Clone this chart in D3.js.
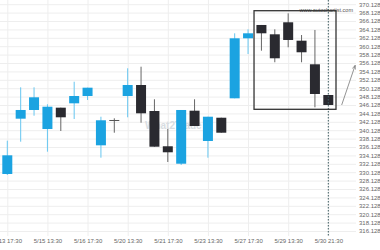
<!DOCTYPE html>
<html>
<head>
<meta charset="utf-8">
<script src="https://cdn.jsdelivr.net/npm/d3@7"></script>
<style>
  body { margin: 0; background: #fff; }
  svg { display: block; font-family: "Liberation Sans", Arial, sans-serif; }
</style>
</head>
<body>
<div id="chart"></div>
<script>
// candle data (one row per candle)
const opens  = [329.70, 342.87, 344.94, 340.41, 345.49, 346.53, 348.27, 336.53, 342.56, 348.27, 350.89, 344.70, 336.30,
                332.15, 344.77, 337.56, 343.10, 347.72, 362.01, 365.18, 362.96, 365.82, 361.44, 355.82, 348.51];
const highs  = [337.63, 350.34, 350.34, 346.30, 345.49, 351.67, 350.25, 343.34, 342.96, 354.87, 355.25, 347.49, 340.41,
                344.94, 347.49, 343.34, 343.10, 363.20, 364.15, 365.18, 364.15, 367.96, 362.79, 363.99, 348.51];
const lows   = [329.46, 337.39, 343.58, 335.01, 339.94, 342.79, 347.32, 333.58, 339.53, 343.20, 341.91, 336.20, 332.56,
                331.84, 341.13, 333.58, 339.53, 347.72, 358.27, 359.06, 356.30, 359.87, 356.30, 345.58, 346.13];
const closes = [334.15, 344.94, 347.96, 345.72, 343.20, 348.27, 350.25, 342.49, 342.56, 350.89, 344.15, 336.20, 334.87,
                344.94, 341.13, 343.34, 339.53, 362.01, 363.20, 363.20, 357.25, 361.61, 358.68, 348.75, 346.13];

// x tick labels sit on every third candle
const xTickIndex = [0, 3, 6, 9, 12, 15, 18, 21, 24];
const xTickLabels = ["5/13 17:30", "5/15 13:30", "5/16 17:30", "5/20 13:30", "5/21 17:30",
                     "5/23 13:30", "5/27 17:30", "5/29 13:30", "5/30 21:30"];
const yTicks = d3.range(0, 28).map(i => 316.128 + i * 2);

// detected pattern (candles) and the forecast arrow
const patternFirst = 19, patternLast = 24;
const arrowIndex = [25, 26];
const arrowValue = [346.13, 355.5];

const width = 380, height = 250;
const plotRight = 356, plotBottom = 236;

const svg = d3.select("#chart").append("svg")
  .attr("width", width)
  .attr("height", height);

const x = d3.scaleLinear().domain([0, 24]).range([7.3, 328.3]);
const y = d3.scaleLinear().domain([316.128, 370.128]).range([231, 4.2]);

// grid + y labels
const yAxis = svg.append("g")
  .attr("transform", `translate(${plotRight},0)`)
  .call(d3.axisRight(y).tickValues(yTicks).tickSize(-plotRight).tickPadding(3)
    .tickFormat(d => d.toFixed(3)));
yAxis.select(".domain").remove();
yAxis.selectAll("line").attr("stroke", "#eeeeee");
yAxis.selectAll("text").attr("fill", "#666").style("font-size", "6px");

// grid + x labels
const xAxis = svg.append("g")
  .attr("transform", `translate(0,${plotBottom})`)
  .call(d3.axisBottom(x).tickValues(xTickIndex).tickSize(-plotBottom).tickPadding(3)
    .tickFormat((d, i) => xTickLabels[i]));
xAxis.select(".domain").remove();
xAxis.selectAll("line").attr("stroke", "#eeeeee");
xAxis.selectAll("text").attr("fill", "#666").style("font-size", "6px");

// watermarks
svg.append("text")
  .attr("x", 145).attr("y", 129)
  .attr("fill", "#d8dde2")
  .style("font-size", "10px").style("font-weight", "bold")
  .text("What2Trade");

svg.append("text")
  .attr("x", 353).attr("y", 12)
  .attr("text-anchor", "end")
  .attr("fill", "#555")
  .style("font-size", "5.5px")
  .text("www.autochartist.com");

// candles
const candles = opens.map((o, i) => ({ i, o, h: highs[i], l: lows[i], c: closes[i] }));
const blue = "#1ba3e1", dark = "#2a2a30";
const colorOf = d => d.c > d.o ? blue : (d.c < d.o ? dark : "#555");

const g = svg.append("g");
g.selectAll(".wick")
  .data(candles)
  .enter().append("line")
  .attr("x1", d => x(d.i)).attr("x2", d => x(d.i))
  .attr("y1", d => y(d.h)).attr("y2", d => y(d.l))
  .attr("stroke", d => d.c > d.o ? "#66c6f0" : "#666")
  .attr("stroke-width", 1);

g.selectAll(".body")
  .data(candles)
  .enter().append("rect")
  .attr("x", d => x(d.i) - 5)
  .attr("width", 10)
  .attr("y", d => y(Math.max(d.o, d.c)))
  .attr("height", d => Math.max(1, y(Math.min(d.o, d.c)) - y(Math.max(d.o, d.c))))
  .attr("fill", colorOf);

// current time line
svg.append("line")
  .attr("x1", x(24)).attr("x2", x(24))
  .attr("y1", 0).attr("y2", plotBottom)
  .attr("stroke", "#3d5a60")
  .attr("stroke-width", 1)
  .attr("stroke-dasharray", "1.5,1.5");

// pattern box
const pat = candles.slice(patternFirst, patternLast + 1);
const boxTop = y(d3.max(pat, d => d.h)) - 2.6;
const boxBottom = y(d3.min(pat, d => d.l)) + 2;
svg.append("rect")
  .attr("x", x(patternFirst) - 7.4)
  .attr("y", boxTop)
  .attr("width", x(patternLast) + 7.7 - (x(patternFirst) - 7.4))
  .attr("height", boxBottom - boxTop)
  .attr("fill", "none")
  .attr("stroke", "#333")
  .attr("stroke-width", 1.3);

// forecast arrow
svg.append("defs").append("marker")
  .attr("id", "head")
  .attr("viewBox", "0 0 10 10")
  .attr("refX", 9).attr("refY", 5)
  .attr("markerWidth", 5).attr("markerHeight", 5)
  .attr("orient", "auto")
  .append("path")
  .attr("d", "M0,1 L10,5 L0,9")
  .attr("fill", "none")
  .attr("stroke", "#666")
  .attr("stroke-width", 1.5);

svg.append("line")
  .attr("x1", x(arrowIndex[0])).attr("y1", y(arrowValue[0]))
  .attr("x2", x(arrowIndex[1])).attr("y2", y(arrowValue[1]))
  .attr("stroke", "#777")
  .attr("stroke-width", 0.8)
  .attr("marker-end", "url(#head)");
</script>
</body>
</html>
